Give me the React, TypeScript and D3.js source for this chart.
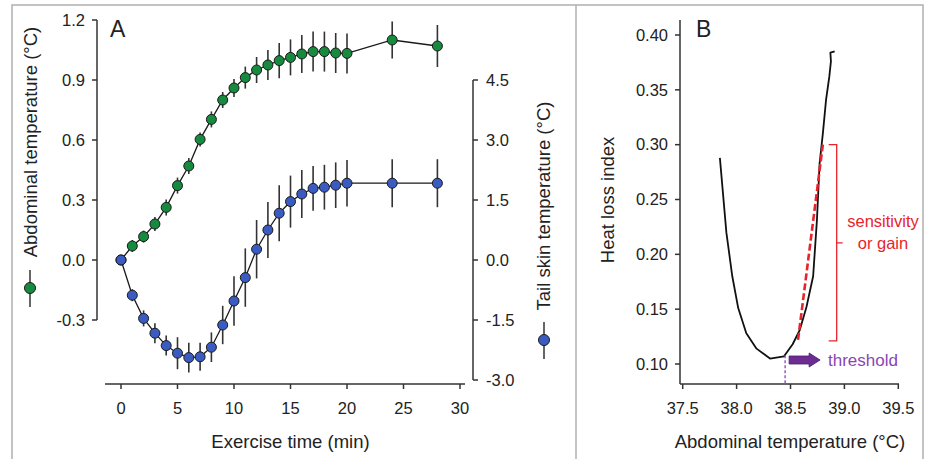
import React from "react";
import * as d3 from "d3";

// ---------- Panel A data ----------
const timeMin = [0, 1, 2, 3, 4, 5, 6, 7, 8, 9, 10, 11, 12, 13, 14, 15, 16, 17, 18, 19, 20, 24, 28];
const abdominalTemp = [0, 0.07, 0.117, 0.18, 0.263, 0.372, 0.47, 0.603, 0.703, 0.8, 0.86, 0.912, 0.95, 0.975, 0.997, 1.013, 1.03, 1.042, 1.042, 1.035, 1.033, 1.1, 1.07];
const abdominalErr = [0, 0.03, 0.03, 0.035, 0.04, 0.04, 0.04, 0.035, 0.04, 0.04, 0.045, 0.055, 0.065, 0.075, 0.088, 0.09, 0.095, 0.1, 0.1, 0.1, 0.1, 0.093, 0.105];
const tailTemp = [0, -0.88, -1.46, -1.83, -2.14, -2.33, -2.44, -2.42, -2.18, -1.625, -1.025, -0.44, 0.27, 0.75, 1.17, 1.46, 1.65, 1.79, 1.82, 1.87, 1.92, 1.92, 1.92];
const tailErr = [0, 0.15, 0.2, 0.25, 0.25, 0.4, 0.37, 0.35, 0.37, 0.48, 0.62, 0.73, 0.73, 0.7, 0.7, 0.65, 0.6, 0.56, 0.56, 0.57, 0.58, 0.6, 0.6];
const xTicksA = [0, 5, 10, 15, 20, 25, 30];
const yTicksLeft = [-0.3, 0, 0.3, 0.6, 0.9, 1.2];
const yTicksRight = [-3, -1.5, 0, 1.5, 3, 4.5];

// ---------- Panel B data ----------
const curveTemp = [37.845, 37.905, 37.96, 38.015, 38.09, 38.185, 38.31, 38.44, 38.52, 38.586, 38.648, 38.71, 38.745, 38.77, 38.8, 38.83, 38.86, 38.875, 38.87, 38.91];
const curveHli = [0.288, 0.22, 0.18, 0.151, 0.128, 0.114, 0.105, 0.107, 0.118, 0.131, 0.152, 0.18, 0.231, 0.283, 0.31, 0.341, 0.362, 0.376, 0.384, 0.385];
const gainLineTemp = [38.57, 38.8];
const gainLineHli = [0.122, 0.3];
const bracketHli = [0.121, 0.3];
const thresholdTemp = 38.45;
const xTicksB = [37.5, 38.0, 38.5, 39.0, 39.5];
const yTicksB = [0.1, 0.15, 0.2, 0.25, 0.3, 0.35, 0.4];

const FONT = "'Liberation Sans', Arial, Helvetica, sans-serif";
const INK = "#222";
const AX = "#333";
const GREEN = "#168a3e";
const BLUE = "#3a5cc2";
const RED = "#e8232b";
const PURPLE = "#6c2c91";
const PURPLE_TXT = "#8a45b5";

export default function App() {
  // scales panel A
  const xA = d3.scaleLinear().domain([0, 30]).range([121, 460]);
  const yL = d3.scaleLinear().domain([-0.3, 1.2]).range([320, 20]);
  const yR = d3.scaleLinear().domain([-3, 4.5]).range([380, 80]);
  // scales panel B
  const xB = d3.scaleLinear().domain([37.5, 39.5]).range([682.7, 898.3]);
  const yB = d3.scaleLinear().domain([0.1, 0.4]).range([364, 35]);

  const axisY = 384;
  const leftX = 97;
  const rightX = 473;
  const bY = 680;

  const greenLine = d3.line<number>().x((_, i) => xA(timeMin[i])).y((d) => yL(d))(abdominalTemp) || "";
  const blueLine = d3.line<number>().x((_, i) => xA(timeMin[i])).y((d) => yR(d))(tailTemp) || "";
  const curveB = d3.line<number>().x((_, i) => xB(curveTemp[i])).y((d) => yB(d))(curveHli) || "";

  const fmt1 = (v: number) => d3.format(".1f")(v).replace("\u2212", "-");
  const fmt2 = (v: number) => d3.format(".2f")(v).replace("\u2212", "-");

  const textStyle = { fontFamily: FONT, fill: INK } as const;

  const bx = 836.7;
  const bTop = yB(bracketHli[1]);
  const bBot = yB(bracketHli[0]);
  const bMid = (bTop + bBot) / 2;

  const thrX = xB(thresholdTemp);
  const arrowY = 360;

  return (
    <svg
      width={929}
      height={459}
      style={{ position: "absolute", left: 0, top: 0, background: "#fff" }}
    >
      {/* frame */}
      <rect x={12} y={5} width={911} height={470} fill="none" stroke="#b0b0b0" strokeWidth={1.5} />
      <line x1={576} x2={576} y1={5} y2={459} stroke="#b0b0b0" strokeWidth={1.5} />

      {/* ===== Panel A ===== */}
      <text x={110} y={37} fontSize={23} {...textStyle}>A</text>

      {/* x axis */}
      <line x1={105} x2={465} y1={axisY} y2={axisY} stroke={AX} strokeWidth={1.5} />
      {xTicksA.map((t) => (
        <g key={"xa" + t}>
          <line x1={xA(t)} x2={xA(t)} y1={axisY} y2={axisY + 5} stroke={AX} strokeWidth={1.5} />
          <text x={xA(t)} y={axisY + 30} fontSize={16.5} textAnchor="middle" {...textStyle}>{t}</text>
        </g>
      ))}
      <text x={xA(15)} y={448} fontSize={18.5} textAnchor="middle" {...textStyle}>Exercise time (min)</text>

      {/* left axis */}
      <line x1={leftX} x2={leftX} y1={yL(1.2)} y2={yL(-0.3)} stroke={AX} strokeWidth={1.5} />
      {yTicksLeft.map((t) => (
        <g key={"yl" + t}>
          <line x1={leftX - 5} x2={leftX} y1={yL(t)} y2={yL(t)} stroke={AX} strokeWidth={1.5} />
          <text x={leftX - 12} y={yL(t)} dy="0.35em" fontSize={16.5} textAnchor="end" {...textStyle}>{fmt1(t)}</text>
        </g>
      ))}
      <text transform={`translate(37,142) rotate(-90)`} fontSize={18.5} textAnchor="middle" {...textStyle}>Abdominal temperature (°C)</text>
      <line x1={30} x2={30} y1={270} y2={307} stroke={AX} strokeWidth={1.5} />
      <circle cx={30} cy={288} r={5.5} fill={GREEN} stroke="#1a1a1a" strokeWidth={1} />

      {/* right axis */}
      <line x1={rightX} x2={rightX} y1={yR(4.5)} y2={yR(-3)} stroke={AX} strokeWidth={1.5} />
      {yTicksRight.map((t) => (
        <g key={"yr" + t}>
          <line x1={rightX} x2={rightX + 5} y1={yR(t)} y2={yR(t)} stroke={AX} strokeWidth={1.5} />
          <text x={rightX + 13} y={yR(t)} dy="0.35em" fontSize={16.5} textAnchor="start" {...textStyle}>{fmt1(t)}</text>
        </g>
      ))}
      <text transform={`translate(550,206) rotate(-90)`} fontSize={18.5} textAnchor="middle" {...textStyle}>Tail skin temperature (°C)</text>
      <line x1={544} x2={544} y1={322} y2={359} stroke={AX} strokeWidth={1.5} />
      <circle cx={544} cy={340} r={5.5} fill={BLUE} stroke="#1a1a1a" strokeWidth={1} />

      {/* green series */}
      {timeMin.map((t, i) => (
        <line key={"ge" + i} x1={xA(t)} x2={xA(t)} y1={yL(abdominalTemp[i] - abdominalErr[i])} y2={yL(abdominalTemp[i] + abdominalErr[i])} stroke={AX} strokeWidth={1.6} />
      ))}
      <path d={greenLine} fill="none" stroke="#1a1a1a" strokeWidth={1.3} />
      {timeMin.map((t, i) => (
        <circle key={"gc" + i} cx={xA(t)} cy={yL(abdominalTemp[i])} r={5} fill={GREEN} stroke="#1a1a1a" strokeWidth={1} />
      ))}

      {/* blue series */}
      {timeMin.map((t, i) => (
        <line key={"be" + i} x1={xA(t)} x2={xA(t)} y1={yR(tailTemp[i] - tailErr[i])} y2={yR(tailTemp[i] + tailErr[i])} stroke={AX} strokeWidth={1.6} />
      ))}
      <path d={blueLine} fill="none" stroke="#1a1a1a" strokeWidth={1.3} />
      {timeMin.map((t, i) => (
        <circle key={"bc" + i} cx={xA(t)} cy={yR(tailTemp[i])} r={5} fill={BLUE} stroke="#1a1a1a" strokeWidth={1} />
      ))}

      {/* ===== Panel B ===== */}
      <text x={696} y={37} fontSize={23} {...textStyle}>B</text>

      <line x1={bY} x2={bY} y1={20} y2={axisY} stroke={AX} strokeWidth={1.5} />
      {yTicksB.map((t) => (
        <g key={"yb" + t}>
          <line x1={bY - 5} x2={bY} y1={yB(t)} y2={yB(t)} stroke={AX} strokeWidth={1.5} />
          <text x={bY - 12} y={yB(t)} dy="0.35em" fontSize={16.5} textAnchor="end" {...textStyle}>{fmt2(t)}</text>
        </g>
      ))}
      <text transform={`translate(614,200) rotate(-90)`} fontSize={18.5} textAnchor="middle" {...textStyle}>Heat loss index</text>

      <line x1={bY} x2={899} y1={axisY} y2={axisY} stroke={AX} strokeWidth={1.5} />
      {xTicksB.map((t) => (
        <g key={"xb" + t}>
          <line x1={xB(t)} x2={xB(t)} y1={axisY} y2={axisY + 5} stroke={AX} strokeWidth={1.5} />
          <text x={xB(t)} y={axisY + 30} fontSize={16.5} textAnchor="middle" {...textStyle}>{fmt1(t)}</text>
        </g>
      ))}
      <text x={790} y={448} fontSize={18.5} textAnchor="middle" {...textStyle}>Abdominal temperature (°C)</text>

      {/* curve */}
      <path d={curveB} fill="none" stroke="#111" strokeWidth={1.8} strokeLinejoin="round" />

      {/* gain line */}
      <line x1={xB(gainLineTemp[0])} y1={yB(gainLineHli[0])} x2={xB(gainLineTemp[1])} y2={yB(gainLineHli[1])} stroke={RED} strokeWidth={2.6} strokeDasharray="7,3" />

      {/* bracket */}
      <path d={`M${bx - 8},${bTop} H${bx} V${bBot} H${bx - 8} M${bx},${bMid} H${bx + 6}`} fill="none" stroke={RED} strokeWidth={1.3} />
      <text x={883} y={221} dy="0.35em" fontSize={16.5} textAnchor="middle" fontFamily={FONT} fill={RED}>sensitivity</text>
      <text x={883} y={243} dy="0.35em" fontSize={16.5} textAnchor="middle" fontFamily={FONT} fill={RED}>or gain</text>

      {/* threshold */}
      <line x1={thrX} x2={thrX} y1={yB(0.108)} y2={axisY} stroke={PURPLE_TXT} strokeWidth={1.3} strokeDasharray="3,2" />
      <path
        d={`M${thrX + 4},${arrowY - 4} H${thrX + 24} V${arrowY - 7} L${thrX + 35},${arrowY} L${thrX + 24},${arrowY + 7} V${arrowY + 4} H${thrX + 4} Z`}
        fill={PURPLE}
        stroke="#4a1c66"
        strokeWidth={0.8}
      />
      <text x={828} y={arrowY} dy="0.35em" fontSize={17} fontFamily={FONT} fill={PURPLE_TXT}>threshold</text>
    </svg>
  );
}
